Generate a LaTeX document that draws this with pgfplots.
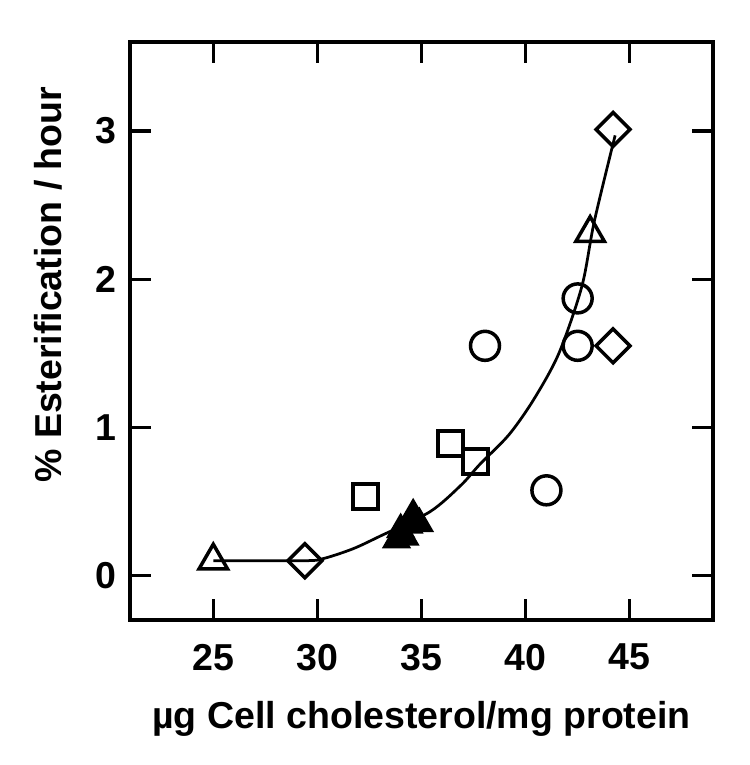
\documentclass[border=0pt]{standalone}
\usepackage{fontspec}
\setmainfont{Liberation Sans}
\usepackage{pgfplots}
\pgfplotsset{compat=1.18}

\begin{document}
\begin{tikzpicture}
  \begin{axis}[
      at={(0,0)}, anchor=south west,
      scale only axis, width=233.2pt, height=231.2pt,
      xmin=21, xmax=49, ymin=-0.3, ymax=3.6,
      xtick={25,30,35,40,45}, ytick={0,1,2,3},
      tick align=inside, major tick length=8.4pt,
      tick style={line width=1.3pt, black},
      axis line style={line width=1.4pt},
      /pgf/number format/assume math mode=true,
      tick label style={font=\fontsize{15}{18}\selectfont\bfseries},
      xticklabel shift=6pt, yticklabel shift=2pt,
      label style={font=\fontsize{15}{18}\selectfont\bfseries},
      xlabel={µg Cell cholesterol/mg protein},
      ylabel={\% Esterification / hour},
      xlabel style={at={(rel axis cs:0.5,0)}, anchor=north, yshift=-29pt},
      ylabel style={at={(rel axis cs:0,0.58)}, anchor=center, yshift=32.6pt},
      clip=false,
    ]

    % fitted curve
    \addplot[no marks, line width=1.1pt, smooth, tension=0.5] coordinates {
      (25,0.1) (29.4,0.1) (30.3,0.115) (31.7,0.18) (33.0,0.265) (35.4,0.43)
      (36.9,0.61) (37.8,0.75) (39.2,0.95) (40.4,1.19) (41.6,1.50)
      (42.7,1.95) (43.3,2.39) (44.3,2.97)
    };

    % open triangles
    \addplot[only marks, mark=triangle, mark size=6.6pt,
      mark options={line width=1.4pt}] coordinates {
      (25,0.1) (43.1,2.31)
    };
    % open diamonds
    \addplot[only marks, mark=square, mark size=4.8pt,
      mark options={line width=1.4pt, rotate=45}] coordinates {
      (29.4,0.1) (44.2,1.55) (44.2,3.01)
    };
    % open squares
    \addplot[only marks, mark=square, mark size=5pt,
      mark options={line width=1.4pt}] coordinates {
      (32.3,0.535) (36.4,0.89) (37.6,0.77)
    };
    % open circles
    \addplot[only marks, mark=o, mark size=5.8pt,
      mark options={line width=1.4pt}] coordinates {
      (38.05,1.55) (41.0,0.575) (42.5,1.87) (42.5,1.55)
    };
    % filled triangles
    \addplot[only marks, mark=triangle*, mark size=6.2pt,
      mark options={fill=black, line width=0.6pt}] coordinates {
      (33.8,0.24) (34.2,0.26) (34.0,0.31) (34.4,0.34) (34.6,0.41) (34.9,0.35)
    };
  \end{axis}
  \path (-52pt,-58pt) rectangle (248pt,248pt);
\end{tikzpicture}
\end{document}
